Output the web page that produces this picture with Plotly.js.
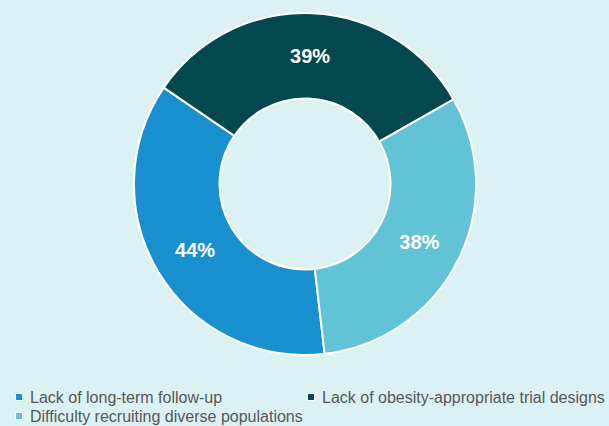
<!DOCTYPE html>
<html>
<head>
<meta charset="utf-8">
<script src="https://cdn.plot.ly/plotly-3.0.1.min.js"></script>
<style>
  html, body { margin: 0; padding: 0; background: #DCF1F4; }
  #chart { width: 609px; height: 426px; }
</style>
</head>
<body>
<div id="chart"></div>
<script>
const categories = [
  "Lack of long-term follow-up",
  "Lack of obesity-appropriate trial designs",
  "Difficulty recruiting diverse populations"
];
const values = [44, 39, 38];
const colors = ["#1890CF", "#03474F", "#62C3D6"];

const W = 609, H = 426;
// legend entry anchor points in pixels (marker centre x, row centre y)
const legendSlots = [[19, 397], [311, 397], [19, 416]];

const trace = {
  type: "pie",
  labels: categories,
  values: values,
  hole: 0.5,
  sort: false,
  direction: "clockwise",
  rotation: 173.4,
  marker: { colors: colors, line: { color: "#FFFFFF", width: 2 } },
  texttemplate: "%{value}%",
  textposition: "inside",
  insidetextorientation: "horizontal",
  textfont: { family: "Liberation Sans, Arial, sans-serif", size: 20, color: "#FFFFFF", weight: "bold" },
  hoverinfo: "label+value",
  showlegend: false,
  domain: { x: [134 / W, 476 / W], y: [71 / H, 413 / H] }
};

const px = x => x / W;
const py = y => (H - y) / H;

const legendShapes = categories.map((c, i) => {
  const [cx, cy] = legendSlots[i];
  return {
    type: "rect", xref: "paper", yref: "paper",
    x0: px(cx - 3.5), x1: px(cx + 3.5), y0: py(cy + 3.5), y1: py(cy - 3.5),
    fillcolor: colors[i], line: { color: "#FFFFFF", width: 1 }
  };
});

const legendTexts = categories.map((c, i) => {
  const [cx, cy] = legendSlots[i];
  return {
    text: c, xref: "paper", yref: "paper",
    x: px(cx + 10), y: py(cy), xanchor: "left", yanchor: "middle",
    showarrow: false, borderpad: 0,
    font: { family: "Liberation Sans, Arial, sans-serif", size: 16, color: "#575757" }
  };
});

const layout = {
  width: W,
  height: H,
  margin: { l: 0, r: 0, t: 0, b: 0, autoexpand: false },
  paper_bgcolor: "#DCF1F4",
  plot_bgcolor: "#DCF1F4",
  font: { family: "Liberation Sans, Arial, sans-serif", size: 16, color: "#575757" },
  showlegend: false,
  shapes: legendShapes,
  annotations: legendTexts
};

Plotly.newPlot("chart", [trace], layout, { displayModeBar: false, staticPlot: true });
</script>
</body>
</html>
